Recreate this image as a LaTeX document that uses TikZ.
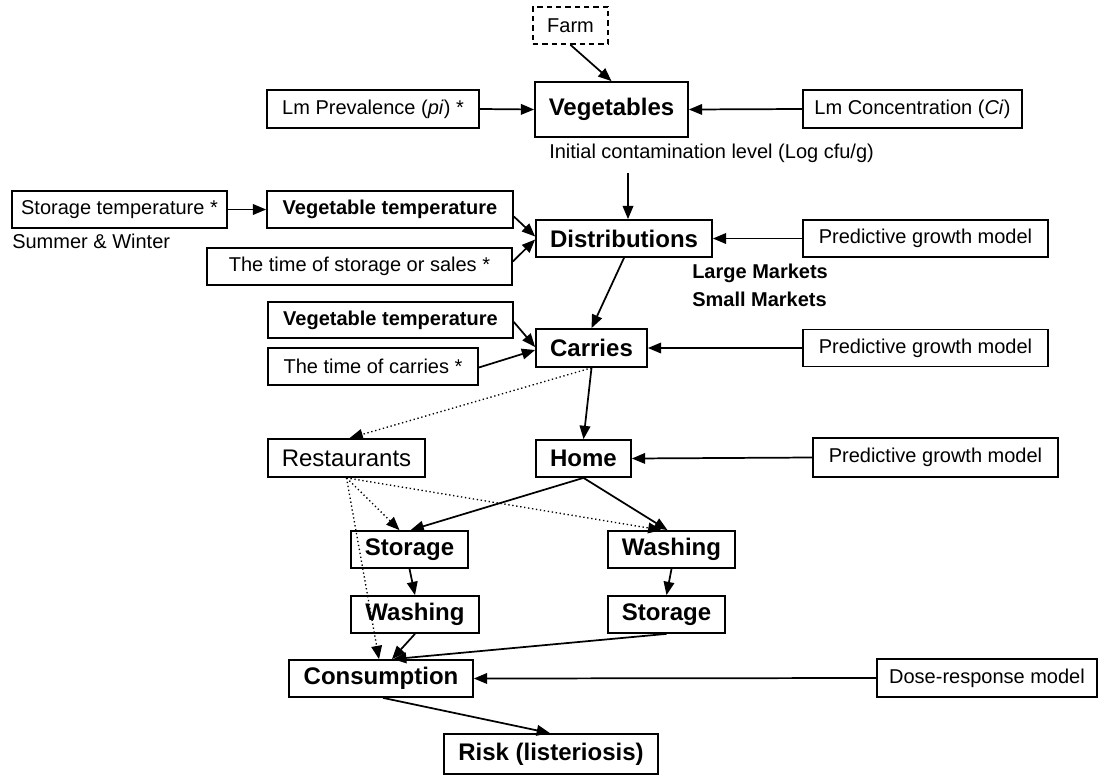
\documentclass[tikz,border=0pt]{standalone}
\usepackage{fontspec}
\setmainfont{Liberation Sans}
\usetikzlibrary{arrows.meta,calc}
\begin{document}
\begin{tikzpicture}[x=0.75pt,y=-0.75pt,
  box/.style 2 args={draw,line width=1.3pt,inner sep=0pt,align=center,
    minimum width=#1*0.75pt,minimum height=#2*0.75pt},
  sm/.style={font=\fontsize{15pt}{18pt}\selectfont},
  smb/.style={font=\fontsize{15pt}{18pt}\selectfont\bfseries},
  bigb/.style={font=\fontsize{18pt}{21pt}\selectfont\bfseries},
  big/.style={font=\fontsize{18pt}{21pt}\selectfont},
  arr/.style={-{Triangle[length=10pt,width=8pt]},line width=1.3pt},
  dotarr/.style={-{Triangle[length=10pt,width=8pt]},line width=1pt,dotted}]
\useasboundingbox (0,0) rectangle (1102,782);

% nodes
\node[box={75}{37},sm,dash pattern=on 4pt off 3pt] (farm) at (570.5,25.5) {Farm};
\node[box={153}{55},bigb] (veg) at (611.5,109.5) {Vegetables};
\node[box={212}{38},sm] (prev) at (373,109) {Lm Prevalence (\textit{pi}) *};
\node[box={219}{38},sm] (conc) at (912.5,109) {Lm Concentration (\textit{Ci})};
\node[sm,anchor=west,inner sep=0pt] (init) at (549,153) {Initial contamination level (Log cfu/g)};
\coordinate (c1) at (628,173);

\node[box={215}{37},sm] (stemp) at (119.5,209.5) {Storage temperature *};
\node[sm,anchor=west,inner sep=0pt] (sw) at (12,241) {Summer \& Winter};
\node[box={246}{37},smb] (vt1) at (390,209.5) {Vegetable temperature};
\node[box={305}{37},sm] (tstor) at (359.5,266.5) {The time of storage or sales *};
\node[box={176}{37},bigb] (dist) at (624,238.5) {Distributions};
\node[box={245}{37},sm] (pg1) at (925.5,238.5) {Predictive growth model};
\node[smb,anchor=west,inner sep=0pt] (lm) at (692,273) {Large Markets};
\node[smb,anchor=west,inner sep=0pt] (smk) at (692,299) {Small Markets};

\node[box={245}{36},smb] (vt2) at (390.5,320) {Vegetable temperature};
\node[box={210}{37},sm] (tcar) at (373,366.5) {The time of carries *};
\node[box={111}{38},bigb] (car) at (591.5,348) {Carries};
\node[box={245}{37},sm] (pg2) at (925.5,348) {Predictive growth model};

\node[box={157}{38},big] (rest) at (346.5,458) {Restaurants};
\node[box={95}{37},bigb] (home) at (583.5,458.5) {Home};
\node[box={245}{39},sm] (pg3) at (935.5,457.5) {Predictive growth model};

\node[box={117}{37},bigb] (stoL) at (409.5,549.5) {Storage};
\node[box={127}{37},bigb] (washR) at (671.5,549.5) {Washing};
\node[box={128}{37},bigb] (washL) at (415,614.5) {Washing};
\node[box={117}{37},bigb] (stoR) at (666.5,614.5) {Storage};

\node[box={184}{37},bigb] (cons) at (381,678.5) {Consumption};
\node[box={220}{38},sm] (dose) at (987,678) {Dose-response model};
\node[box={214}{40},bigb] (risk) at (551,754) {Risk (listeriosis)};

% connectors
\draw[arr] (farm.south) -- (veg.north);
\draw[arr] (prev.east) -- (veg.west);
\draw[arr] (conc.west) -- (veg.east);
\draw[arr] (c1) -- (c1 |- dist.north);
\draw[arr] (stemp.east) -- (vt1.west);
\draw[arr] ($(vt1.east)+(0,7)$) -- ($(dist.west)+(0,-2)$);
\draw[arr] ($(tstor.east)+(0,-5)$) -- ($(dist.west)+(0,1)$);
\draw[arr] (pg1.west) -- (dist.east);
\draw[arr] (dist.south) -- (car.north);
\draw[arr] ($(vt2.east)+(0,2)$) -- ($(car.west)+(0,-1)$);
\draw[arr] ($(tcar.east)+(0,1)$) -- ($(car.west)+(0,2)$);
\draw[arr] (pg2.west) -- (car.east);
\draw[arr] (car.south) -- (home.north);
\draw[dotarr] (car.south) -- ($(rest.north)+(3,0)$);
\draw[arr] (pg3.west) -- (home.east);
\draw[arr] (home.south) -- ($(stoL.north)+(1,0)$);
\draw[arr] (home.south) -- ($(washR.north)+(-4,0)$);
\draw[dotarr] (rest.south) -- ($(stoL.north)+(-10,0)$);
\draw[dotarr] (rest.south) -- ($(washR.north)+(-10,0)$);
\draw[dotarr] (rest.south) -- ($(cons.north)+(-2,0)$);
\draw[arr] (stoL.south) -- (washL.north);
\draw[arr] (washR.south) -- (stoR.north);
\draw[arr] (washL.south) -- ($(cons.north)+(11,0)$);
\draw[arr] (stoR.south) -- ($(cons.north)+(12,0)$);
\draw[arr] (dose.west) -- (cons.east);
\draw[arr] ($(cons.south)+(2,0)$) -- ($(risk.north)+(-1,0)$);
\end{tikzpicture}
\end{document}
